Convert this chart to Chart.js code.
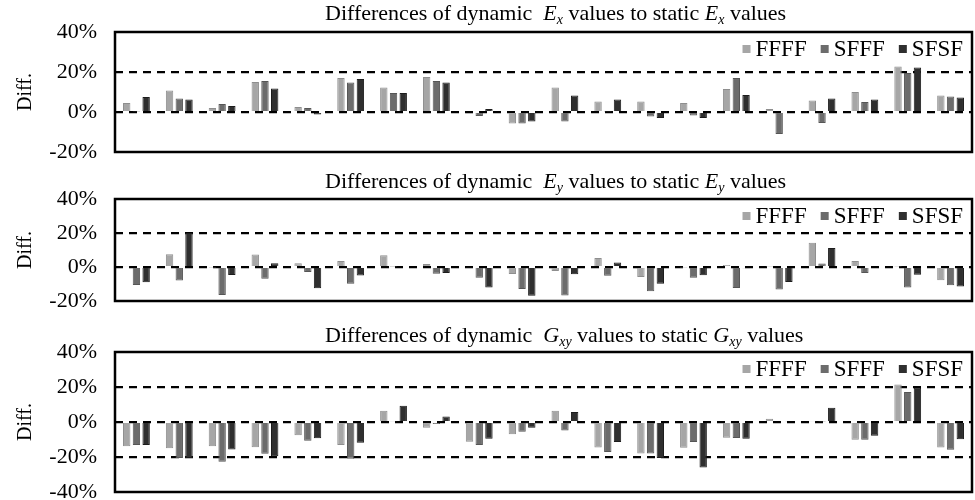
<!DOCTYPE html>
<html>
<head>
<meta charset="utf-8">
<script src="https://cdn.jsdelivr.net/npm/chart.js@4/dist/chart.umd.min.js"></script>
<style>
  html, body { margin: 0; padding: 0; background: #fff; overflow: hidden; }
  #wrap { position: relative; width: 975px; height: 500px; overflow: hidden; }
  canvas { position: absolute; left: 0; }
  .ttl { position: absolute; left: 325px; font-family: "Liberation Serif", serif; font-size: 22px; color: #000; white-space: nowrap; line-height: 24px; }
  .ttl sub { font-size: 14px; vertical-align: -4px; line-height: 0; }
</style>
</head>
<body>
<div id="wrap">
  <canvas id="chartEx" width="975" height="184" style="top:0px"></canvas>
  <canvas id="chartEy" width="975" height="168" style="top:165px"></canvas>
  <canvas id="chartGxy" width="975" height="204" style="top:320px"></canvas>
  <div class="ttl" style="top:1px">Differences of dynamic &nbsp;<i>E<sub>x</sub></i> values to static <i>E<sub>x</sub></i> values</div>
  <div class="ttl" style="top:169px">Differences of dynamic &nbsp;<i>E<sub>y</sub></i> values to static <i>E<sub>y</sub></i> values</div>
  <div class="ttl" style="top:323px">Differences of dynamic &nbsp;<i>G<sub>xy</sub></i> values to static <i>G<sub>xy</sub></i> values</div>
</div>
<script>
'use strict';
let categories = ['1', '2', '3', '4', '5', '6', '7', '8', '9', '10', '11', '12', '13', '14', '15', '16', '17', '18', '19', '20'];
let seriesNames = ['FFFF', 'SFFF', 'SFSF'];

// Ex differences (%)
let exFFFF = [4.5, 10.7, 2, 15, 2.5, 17, 12.3, 17.5, -0.7, -5.8, 12.2, 5.2, 5.2, 4.5, 11.5, 1.5, 5.8, 10, 22.8, 8.3];
let exSFFF = [0.3, 6.8, 4, 15.5, 2, 14.8, 9.5, 15.5, -2, -5.8, -4.7, 0.3, -2.3, -1.8, 17, -11, -5.5, 5, 19.5, 7.8];
let exSFSF = [7.5, 6.3, 3, 11.7, -1.3, 16.5, 9.5, 14.8, 1.5, -4.7, 8.3, 6.3, -3, -3, 8.5, -0.5, 6.8, 6.3, 22.2, 7.3];

// Ey differences (%)
let eyFFFF = [0.5, 7.5, -0.3, 7.3, 2.2, 3.5, 6.9, 1.8, -0.5, -4.1, -2.3, 5.3, -5.9, -0.3, 1.2, 0.3, 14.3, 3.5, 0.3, -7.8];
let eySFFF = [-10.6, -8, -16.5, -6.9, -3, -9.8, 0.3, -3.9, -6.3, -13, -16.8, -5.1, -14.3, -6.3, -12.4, -13.3, 2, -3.5, -12, -10.8];
let eySFSF = [-9, 20, -4.7, 2.2, -12.5, -5, 0, -3.5, -12, -16.9, -4.3, 2.7, -9.8, -4.9, -0.8, -8.8, 11.2, -0.5, -4.5, -11.4];

// Gxy differences (%)
let gxyFFFF = [-13.8, -15, -13.8, -14.4, -7.6, -13.2, 6.4, -3.3, -11.3, -7, 6.5, -14.5, -18, -14.7, -9, 1.8, 0.5, -10.2, 21.4, -14.5];
let gxySFFF = [-13.2, -20.5, -22.7, -18.1, -10.7, -21, 0.5, -1.2, -13.2, -5.6, -4.9, -17.2, -18, -11.4, -9.2, 0.6, 0.3, -10.2, 17.1, -15.9];
let gxySFSF = [-13.2, -20.5, -15.7, -19.6, -9.3, -11.8, 9.3, 3.1, -9.5, -3.3, 5.7, -11.4, -20.6, -26, -9.6, 0.4, 8.2, -7.8, 19.6, -9.8];

let fillColors = ['#a6a6a6', '#6c6c6c', '#2f2f2f'];
let edgeColors = ['#8e8e8e', '#565656', '#1c1c1c'];
let serif = '"Liberation Serif", "Times New Roman", serif';

// frame around the plot + legend inside the top right corner
let boxLegend = {
    id: 'boxLegend',
    afterDraw(chart) {
        let ctx = chart.ctx;
        let a = chart.chartArea;
        ctx.save();
        ctx.strokeStyle = '#000';
        ctx.lineWidth = 2.5;
        ctx.strokeRect(a.left, a.top, a.right - a.left, a.bottom - a.top);

        ctx.font = '23px ' + serif;
        ctx.textBaseline = 'middle';
        let x = a.right - 9;
        let y = a.top + 17;
        let ds = chart.data.datasets;
        for (let i = ds.length - 1; i >= 0; i--) {
            let w = ctx.measureText(ds[i].label).width;
            ctx.fillStyle = '#000';
            ctx.fillText(ds[i].label, x - w, y + 1);
            ctx.fillStyle = ds[i].backgroundColor;
            ctx.fillRect(x - w - 13, y - 4, 8, 8);
            x = x - w - 13 - 14;
        }
        ctx.restore();
    }
};

// note: v4 adds ticks.padding to the label overhang, so the bottom
// padding has to be at least ~31px; canvases overlap to allow that
function makeChart(id, d1, d2, d3, yMin, padTop, padBottom) {
    let ctx = document.getElementById(id).getContext('2d');
    let sets = [d1, d2, d3];
    let datasets = [];
    for (let i = 0; i < sets.length; i++) {
        datasets.push({
            label: seriesNames[i],
            data: sets[i],
            backgroundColor: fillColors[i],
            borderColor: edgeColors[i],
            borderWidth: 1,
            categoryPercentage: 0.68,
            barPercentage: 0.76
        });
    }
    return new Chart(ctx, {
        type: 'bar',
        data: {
            labels: categories,
            datasets: datasets
        },
        options: {
            responsive: false,
            animation: false,
            layout: { padding: { top: padTop, bottom: padBottom, left: 0, right: 3 } },
            plugins: {
                legend: { display: false },
                tooltip: { enabled: false }
            },
            scales: {
                x: {
                    display: false,
                    grid: { display: false }
                },
                y: {
                    min: yMin,
                    max: 40,
                    afterFit: function (scale) { scale.width = 115; },
                    border: { display: false, dash: [8, 6] },
                    grid: {
                        drawTicks: false,
                        lineWidth: 2.2,
                        color: function (c) {
                            let v = c.tick ? c.tick.value : null;
                            if (v === null || v === 40 || v === yMin) return 'rgba(0,0,0,0)';
                            return '#000';
                        }
                    },
                    ticks: {
                        stepSize: 20,
                        padding: 18,
                        color: '#000',
                        font: { family: serif, size: 22 },
                        callback: function (v) { return v + '%'; }
                    },
                    title: {
                        display: true,
                        text: 'Diff.',
                        color: '#000',
                        font: { family: serif, size: 20 },
                        padding: { top: 14, bottom: 0 }
                    }
                }
            }
        },
        plugins: [boxLegend]
    });
}

makeChart('chartEx', exFFFF, exSFFF, exSFSF, -20, 32, 32);
makeChart('chartEy', eyFFFF, eySFFF, eySFSF, -20, 34, 32);
makeChart('chartGxy', gxyFFFF, gxySFFF, gxySFSF, -40, 32, 32);
</script>
</body>
</html>
